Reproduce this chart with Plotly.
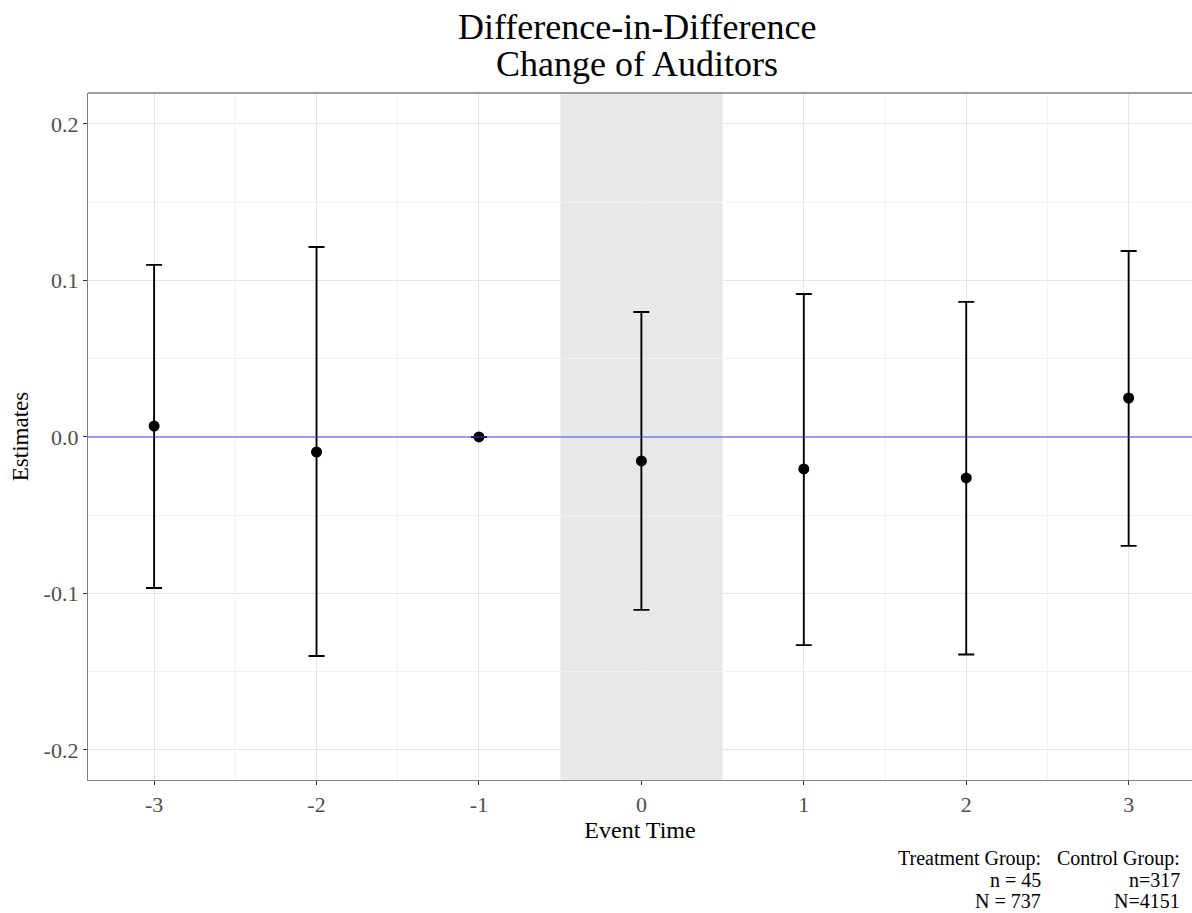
import plotly.graph_objects as go

event_time = [-3, -2, -1, 0, 1, 2, 3]
estimates = [0.0070, -0.0096, 0.0, -0.0153, -0.0204, -0.0262, 0.0249]
upper = [0.110, 0.1214, 0.0, 0.0799, 0.0914, 0.0863, 0.1188]
lower = [-0.0965, -0.140, 0.0, -0.1105, -0.133, -0.139, -0.0696]

title_lines = ["Difference-in-Difference", "Change of Auditors"]
treatment_lines = ["Treatment Group:", "n = 45", "N = 737"]
control_lines = ["Control Group:", "n=317", "N=4151"]

err_plus = [u - e for u, e in zip(upper, estimates)]
err_minus = [e - l for e, l in zip(estimates, lower)]

FONT = "Liberation Serif"
L, R, T, B = 88, 1192, 93, 780
H = B - T


def py(pix):
    return (B - pix) / H


def px(pix):
    return (pix - L) / (R - L)


fig = go.Figure()
fig.add_trace(go.Scatter(
    x=event_time, y=estimates, mode="markers",
    marker=dict(color="black", size=11),
    error_y=dict(type="data", symmetric=False, array=err_plus, arrayminus=err_minus,
                 color="black", thickness=1.9, width=8),
    showlegend=False,
))

fig.add_shape(type="rect", xref="x", yref="paper", x0=-0.5, x1=0.5, y0=0, y1=1,
              fillcolor="#e8e8e8", line=dict(width=0), layer="below")
fig.add_shape(type="line", xref="paper", yref="y", x0=0, x1=1, y0=0, y1=0,
              line=dict(color="rgba(60,60,255,0.65)", width=1.6), layer="above")

fig.update_layout(
    width=1192, height=913,
    margin=dict(l=L, r=1192 - R, t=T, b=913 - B),
    paper_bgcolor="white", plot_bgcolor="white",
    font=dict(family=FONT, color="#1a1a1a"),
)

fig.update_xaxes(
    range=[-3.407, 3.39], tickvals=event_time, ticktext=[str(v) for v in event_time],
    showgrid=True, gridcolor="#e6e6e6", gridwidth=1.2,
    minor=dict(dtick=0.5, tick0=-3.5, showgrid=True, gridcolor="#f2f2f2", gridwidth=1),
    zeroline=False, showline=True, linecolor="#7f7f7f", linewidth=1.3, mirror=False,
    ticks="outside", ticklen=4, tickcolor="#333", tickwidth=1.2,
    tickfont=dict(family=FONT, size=22, color="#4d4d4d"),
    title=dict(text="Event Time", font=dict(family=FONT, size=24, color="black"), standoff=1),
)
fig.update_yaxes(
    range=[-0.2192, 0.2198], tickvals=[-0.2, -0.1, 0.0, 0.1, 0.2],
    ticktext=["-0.2", "-0.1", "0.0", "0.1", "0.2"],
    showgrid=True, gridcolor="#e6e6e6", gridwidth=1.2,
    minor=dict(dtick=0.05, tick0=-0.25, showgrid=True, gridcolor="#f2f2f2", gridwidth=1),
    zeroline=False, showline=True, linecolor="#7f7f7f", linewidth=1.3, mirror=False,
    ticks="outside", ticklen=4, tickcolor="#333", tickwidth=1.2,
    tickfont=dict(family=FONT, size=22, color="#4d4d4d"),
    title=dict(text="Estimates", font=dict(family=FONT, size=23, color="black"), standoff=8),
)

# top border line
fig.add_shape(type="line", xref="paper", yref="paper", x0=0, x1=1, y0=1, y1=1,
              line=dict(color="#7f7f7f", width=1.3), layer="above")

# title lines
for txt, ypix in zip(title_lines, [27, 64]):
    fig.add_annotation(text=txt, xref="paper", yref="paper", x=px(637), y=py(ypix),
                       xanchor="center", yanchor="middle", showarrow=False,
                       font=dict(family=FONT, size=36, color="black"))

# caption lines
for lines, xpix in [(treatment_lines, 1043), (control_lines, 1182)]:
    for txt, ypix in zip(lines, [858, 880, 901]):
        fig.add_annotation(text=txt, xref="paper", yref="paper", x=px(xpix), y=py(ypix),
                           xanchor="right", yanchor="middle", showarrow=False,
                           font=dict(family=FONT, size=20, color="black"))

fig.write_html("out.html")
